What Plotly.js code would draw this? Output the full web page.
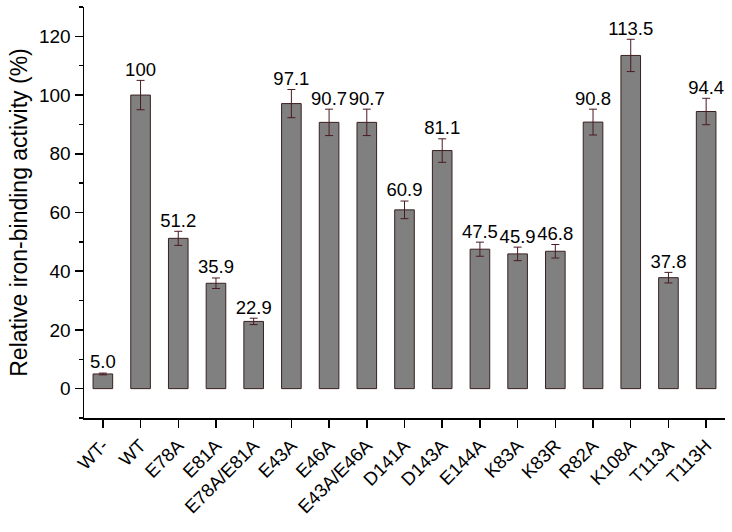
<!DOCTYPE html>
<html>
<head>
<meta charset="utf-8">
<script src="https://cdn.plot.ly/plotly-3.0.1.min.js"></script>
<style>html,body{margin:0;padding:0;background:#fff;}#chart{width:732px;height:532px;}</style>
</head>
<body>
<div id="chart"></div>
<script>
const categories = ["WT-","WT","E78A","E81A","E78A/E81A","E43A","E46A","E43A/E46A","D141A","D143A","E144A","K83A","K83R","R82A","K108A","T113A","T113H"];
const activity = [5.0,100,51.2,35.9,22.9,97.1,90.7,90.7,60.9,81.1,47.5,45.9,46.8,90.8,113.5,37.8,94.4];
const errors = [0.3,5.0,2.4,1.8,1.1,4.8,4.5,4.5,3.0,4.0,2.4,2.3,2.3,4.4,5.5,1.8,4.5];
const labels = ["5.0","100","51.2","35.9","22.9","97.1","90.7","90.7","60.9","81.1","47.5","45.9","46.8","90.8","113.5","37.8","94.4"];

const font = "Liberation Sans, Arial, sans-serif";
const bars = {
  type: 'bar', x: categories, y: activity,
  marker: {color: '#808080', line: {color: '#3a2020', width: 1}},
  width: 0.52,
  error_y: {type: 'data', array: errors, visible: true, color: '#4a1a22', thickness: 1, width: 4},
  hoverinfo: 'none'
};
const tops = activity.map((v,i)=>v+errors[i]);
const txt = {
  type: 'scatter', mode: 'text', x: categories, y: tops, text: labels,
  textposition: 'top center', textfont: {family: font, size: 18.5, color: '#000'},
  hoverinfo: 'none', cliponaxis: false
};
const layout = {
  width: 732, height: 532,
  margin: {l: 84, r: 7, t: 7, b: 114},
  paper_bgcolor: '#fff', plot_bgcolor: '#fff',
  showlegend: false,
  font: {family: font, color: '#000'},
  xaxis: {
    type: 'category', range: [-0.5, 16.5], showline: true, linecolor: '#000', linewidth: 1.5,
    ticks: 'outside', ticklen: 8, tickwidth: 1.5, tickcolor: '#000', tickangle: -45,
    tickfont: {family: font, size: 18.5, color: '#000'}, showgrid: false, zeroline: false
  },
  yaxis: {
    range: [-10, 130], tickvals: [0,20,40,60,80,100,120], showline: true, linecolor: '#000', linewidth: 1.5,
    ticks: 'outside', ticklen: 8, tickwidth: 1.5, tickcolor: '#000',
    minor: {tickvals: [-10,10,30,50,70,90,110,130], ticks: 'outside', ticklen: 4, tickwidth: 1.5, tickcolor: '#000'},
    tickfont: {family: font, size: 19, color: '#000'}, showgrid: false, zeroline: false,
    title: {text: 'Relative iron-binding activity (%)', font: {family: font, size: 23, color: '#000'}, standoff: 5}
  }
};
Plotly.newPlot('chart', [bars, txt], layout, {displayModeBar: false, staticPlot: true});
</script>
</body>
</html>
